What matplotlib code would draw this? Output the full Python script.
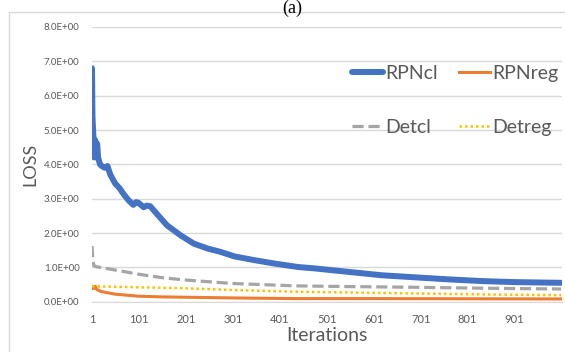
import matplotlib.pyplot as plt
from matplotlib.patches import Rectangle, Arc

# values
rpn_cl_it = [1, 2, 4, 5, 6, 8, 10, 12, 14, 18, 22, 28, 34, 40, 50, 60, 68, 79, 89, 95,
             100, 111, 118, 125, 139, 161, 190, 218, 247, 275, 304, 347, 390, 440, 475,
             546, 618, 689, 761, 832, 903, 1000]
rpn_cl = [6.8, 5.4, 4.8, 4.7, 4.2, 4.7, 4.3, 4.6, 4.2, 4.0, 3.95, 3.9, 3.95, 3.7, 3.45,
          3.3, 3.14, 2.95, 2.82, 2.9, 2.88, 2.75, 2.8, 2.78, 2.56, 2.22, 1.93, 1.69, 1.55,
          1.45, 1.32, 1.21, 1.11, 1.01, 0.97, 0.87, 0.77, 0.71, 0.65, 0.6, 0.57, 0.55]

rpn_reg_it = [1, 3, 5, 8, 12, 20, 30, 50, 75, 100, 150, 200, 300, 437, 600, 800, 1000]
rpn_reg = [0.4, 0.45, 0.38, 0.45, 0.35, 0.3, 0.27, 0.22, 0.19, 0.16, 0.14, 0.13, 0.11,
           0.09, 0.09, 0.085, 0.08]

det_cl_it = [1, 3, 5, 10, 30, 60, 100, 150, 201, 301, 437, 550, 689, 850, 1000]
det_cl = [1.62, 1.2, 1.05, 1.02, 0.97, 0.9, 0.8, 0.7, 0.63, 0.53, 0.46, 0.44, 0.42, 0.39, 0.37]

det_reg_it = [1, 100, 201, 301, 437, 689, 850, 1000]
det_reg = [0.45, 0.42, 0.39, 0.34, 0.29, 0.24, 0.21, 0.19]

x_ticks = [1, 101, 201, 301, 401, 501, 601, 701, 801, 901]
y_ticks = [0, 1, 2, 3, 4, 5, 6, 7, 8]

plt.rcParams['font.family'] = ['Lato', 'DejaVu Sans']

fig = plt.figure(figsize=(5.65, 3.52), dpi=100)

# chart frame and faint watermark arcs
fig.patches.append(Rectangle((9 / 565, -0.1), 1.0, 1 - 12 / 352 + 0.1,
                             transform=fig.transFigure, fill=False,
                             edgecolor='#D9D9D9', linewidth=1.0))
fig.patches.append(Arc((250 / 565, 1 - 560 / 352), 560 / 565, 560 / 352,
                       theta1=120, theta2=175, transform=fig.transFigure,
                       color='#EDEDED', linewidth=5, zorder=0))
fig.patches.append(Arc((250 / 565, 1 - 600 / 352), 440 / 565, 440 / 352,
                       theta1=115, theta2=160, transform=fig.transFigure,
                       color='#EDEDED', linewidth=5, zorder=0))

fig.text(292 / 565, 1.0, '(a)', family='Liberation Serif', fontsize=13,
         ha='center', va='top')

ax = fig.add_axes([92 / 565, 1 - 301.7 / 352, (562 - 92) / 565, (301.7 - 27) / 352])
ax.set_facecolor('none')

ax.plot(rpn_cl_it, rpn_cl, color='#4472C4', lw=4.3, label='RPNcl', solid_capstyle='round')
ax.plot(det_cl_it, det_cl, color='#A5A5A5', lw=2.3, ls=(0, (3.5, 1.5)), label='Detcl')
ax.plot(rpn_reg_it, rpn_reg, color='#ED7D31', lw=2.2, label='RPNreg')
ax.plot(det_reg_it, det_reg, color='#FFC000', lw=1.8, ls=(0, (1, 1.2)), label='Detreg')

ax.set_xlim(1, 1002)
ax.set_ylim(0, 8)
ax.set_xticks(x_ticks)
ax.set_yticks(y_ticks)
ax.set_yticklabels([f'{v:.1f}E+00' for v in y_ticks])
ax.tick_params(axis='both', length=0, labelsize=7, labelcolor='#595959')
ax.tick_params(axis='x', pad=9, labelsize=8)
ax.tick_params(axis='y', pad=9)
ax.grid(axis='y', color='#D9D9D9', lw=1)
ax.set_axisbelow(True)
for s in ['top', 'right', 'left']:
    ax.spines[s].set_visible(False)
ax.spines['bottom'].set_color('#D9D9D9')

ax.set_ylabel('LOSS', fontsize=13, color='#595959', labelpad=4)
ax.set_xlabel('Iterations', fontsize=14, color='#595959', labelpad=1)

ax.legend(loc='upper left', bbox_to_anchor=(352 / 565, 1 - 65 / 352),
          bbox_transform=fig.transFigure, ncol=2, frameon=False, fontsize=14,
          labelcolor='#595959', handlelength=1.6, handletextpad=0.1,
          columnspacing=1.1, labelspacing=1.9, borderpad=0, borderaxespad=0)

fig.savefig('out.png', dpi=100)
